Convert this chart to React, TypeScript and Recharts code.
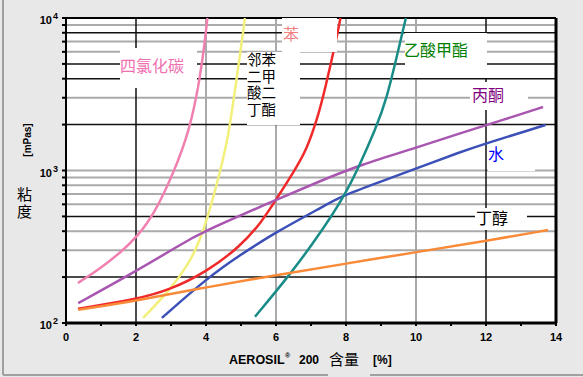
import React from 'react';
import { LineChart, Line, XAxis, YAxis, CartesianGrid, ReferenceLine } from 'recharts';

// ---- axis ticks ----
const xTicks = [0, 1, 2, 3, 4, 5, 6, 7, 8, 9, 10, 11, 12, 13, 14];
const yTicks = [100, 200, 300, 400, 500, 600, 700, 800, 900, 1000, 2000, 3000, 4000, 5000, 6000, 7000, 8000, 9000, 10000];

// ---- grid values ----
const yGridGray = [300, 400, 600, 700, 800, 900, 1000, 3000, 6000, 7000, 9000];
const yGridBlack = [200, 500, 2000, 4000, 5000, 8000];
const xGridGray = [4, 6, 8, 10];
const xGridBlack = [2, 12];

// ---- series (AEROSIL 200 content %, viscosity mPas) ----
const carbonTetrachloride = [
  { x: 0.34, y: 183 }, { x: 0.97, y: 227 }, { x: 1.54, y: 288 }, { x: 2.03, y: 366 },
  { x: 2.54, y: 529 }, { x: 3.06, y: 948 }, { x: 3.54, y: 1845 }, { x: 3.83, y: 4045 },
  { x: 3.97, y: 7110 }, { x: 4.04, y: 10000 },
];
const dibutylPhthalate = [
  { x: 2.2, y: 108 }, { x: 2.97, y: 164 }, { x: 3.54, y: 251 }, { x: 3.83, y: 350 },
  { x: 4.11, y: 551 }, { x: 4.4, y: 977 }, { x: 4.63, y: 1633 }, { x: 4.83, y: 3373 },
  { x: 5.07, y: 8340 }, { x: 5.11, y: 10000 },
];
const benzene = [
  { x: 0.34, y: 124 }, { x: 2.02, y: 143 }, { x: 2.97, y: 165 }, { x: 4.02, y: 217 },
  { x: 4.97, y: 316 }, { x: 5.6, y: 462 }, { x: 6.03, y: 660 }, { x: 6.54, y: 1007 },
  { x: 6.87, y: 1363 }, { x: 7.17, y: 2144 }, { x: 7.4, y: 3373 }, { x: 7.78, y: 8340 },
  { x: 7.84, y: 10000 },
];
const water = [
  { x: 2.74, y: 108 }, { x: 4.02, y: 196 }, { x: 4.97, y: 279 }, { x: 6.02, y: 397 },
  { x: 7.26, y: 565 }, { x: 7.83, y: 673 }, { x: 8.97, y: 841 }, { x: 10.02, y: 1034 },
  { x: 11.26, y: 1320 }, { x: 12.03, y: 1515 }, { x: 13.26, y: 1845 }, { x: 13.7, y: 1988 },
];
const acetone = [
  { x: 0.35, y: 135 }, { x: 2.02, y: 220 }, { x: 3.26, y: 325 }, { x: 3.83, y: 389 },
  { x: 6.11, y: 657 }, { x: 7.26, y: 853 }, { x: 8.4, y: 1087 }, { x: 10.02, y: 1412 },
  { x: 11.26, y: 1754 }, { x: 12.5, y: 2150 }, { x: 13.63, y: 2608 },
];
const methylAcetate = [
  { x: 5.4, y: 110 }, { x: 6.35, y: 201 }, { x: 7.15, y: 355 }, { x: 7.95, y: 673 },
  { x: 8.4, y: 1100 }, { x: 8.83, y: 1845 }, { x: 9.16, y: 2900 }, { x: 9.54, y: 6820 },
  { x: 9.71, y: 10000 },
];
const butanol = [
  { x: 0.35, y: 122 }, { x: 2.02, y: 140 }, { x: 4.02, y: 172 }, { x: 6.0, y: 206 },
  { x: 8.0, y: 245 }, { x: 10.02, y: 292 }, { x: 12.0, y: 345 }, { x: 13.77, y: 407 },
];

const LATIN = '"Liberation Sans", Arial, sans-serif';
const CJK = '"Noto Sans CJK SC", sans-serif';
const STACK = '"Liberation Sans", "Noto Sans CJK SC", sans-serif';

const YTick = (props: any) => {
  const { x, y, payload } = props;
  const v = payload.value;
  const exp = Math.round(Math.log10(v));
  if (Math.pow(10, exp) !== v) return <g />;
  return (
    <g>
      <text x={x - 8} y={y + 6} textAnchor="end" fontSize={11} fontWeight="bold" fontFamily={LATIN} fill="#000">10</text>
      <text x={x - 7} y={y + 1} fontSize={9} fontWeight="bold" fontFamily={LATIN} fill="#000">{exp}</text>
    </g>
  );
};

const series = [
  { data: carbonTetrachloride, color: '#f080b0' },
  { data: dibutylPhthalate, color: '#f2f07a' },
  { data: benzene, color: '#f02a2a' },
  { data: water, color: '#3c50b8' },
  { data: acetone, color: '#a856b0' },
  { data: methylAcetate, color: '#1a8c88' },
  { data: butanol, color: '#f88a38' },
];

const labels = [
  { box: [120, 48, 77, 40], text: '四氯化碳', tx: 120, ty: 72, color: '#f070b0' },
  { box: [282, 18, 55, 34], text: '苯', tx: 283, ty: 40, color: '#f08080' },
  { box: [405, 33, 82, 45], text: '乙酸甲酯', tx: 404, ty: 56, color: '#008000' },
  { box: [470, 82, 58, 28], text: '丙酮', tx: 472, ty: 101, color: '#800080' },
  { box: [488, 146, 47, 25], text: '水', tx: 488, ty: 160, color: '#0000ff' },
  { box: [475, 208, 52, 22], text: '丁醇', tx: 476, ty: 224, color: '#000' },
];
const dbpLines = ['邻苯', '二甲', '酸二', '丁酯'];
const yTitleLines = ['粘', '度'];

export default function App() {
  return (
    <div style={{ position: 'absolute', left: 0, top: 0, width: 583, height: 377, background: '#e8e8e8', overflow: 'hidden' }}>
      <svg width={583} height={377} style={{ position: 'absolute', left: 0, top: 0 }}>
        <rect x={66} y={18} width={490} height={305} fill="#fff" />
        <line x1={3} y1={0} x2={3} y2={375} stroke="#a0a0a0" strokeWidth={2} />
        <line x1={3} y1={375} x2={328} y2={375} stroke="#a0a0a0" strokeWidth={2} />
        <line x1={370} y1={375} x2={583} y2={375} stroke="#a0a0a0" strokeWidth={2} />
      </svg>
      <div style={{ position: 'absolute', left: 0, top: 0 }}>
        <LineChart width={583} height={377} margin={{ top: 18, right: 27, bottom: 24, left: 0 }}>
          <CartesianGrid stroke="#aaaaaa" strokeWidth={2} horizontalValues={yGridGray} verticalValues={xGridGray} />
          <CartesianGrid stroke="#111" strokeWidth={1.5} horizontalValues={yGridBlack} verticalValues={xGridBlack} />
          <XAxis
            dataKey="x"
            type="number"
            domain={[0, 14]}
            ticks={xTicks}
            interval={0}
            allowDataOverflow
            height={30}
            tickSize={3}
            tickMargin={7}
            tickFormatter={(v: number) => (v % 2 === 0 ? String(v) : '')}
            tick={{ fontSize: 11, fontWeight: 'bold', fill: '#000', fontFamily: LATIN }}
            axisLine={{ stroke: '#000', strokeWidth: 3 }}
            tickLine={{ stroke: '#000', strokeWidth: 2 }}
          />
          <YAxis
            type="number"
            scale="log"
            domain={[100, 10000]}
            ticks={yTicks}
            interval={0}
            allowDataOverflow
            width={66}
            tickSize={4}
            tick={<YTick />}
            axisLine={{ stroke: '#000', strokeWidth: 2 }}
            tickLine={{ stroke: '#000', strokeWidth: 2 }}
          />
          <ReferenceLine y={10000} stroke="#000" strokeWidth={2} />
          <ReferenceLine x={14} stroke="#000" strokeWidth={3} />
          {series.map((s, i) => (
            <Line
              key={i}
              data={s.data}
              dataKey="y"
              type="basis"
              stroke={s.color}
              strokeWidth={2.5}
              dot={false}
              isAnimationActive={false}
            />
          ))}
        </LineChart>
      </div>
      <svg width={583} height={377} style={{ position: 'absolute', left: 0, top: 0, pointerEvents: 'none' }}>
        {labels.map((l, i) => (
          <g key={i}>
            <rect x={l.box[0]} y={l.box[1]} width={l.box[2]} height={l.box[3]} fill="#fff" />
            <text x={l.tx} y={l.ty} fontSize={16} fontFamily={CJK} fill={l.color}>{l.text}</text>
          </g>
        ))}
        <rect x={247} y={52} width={53} height={73} fill="#fff" />
        <text transform="translate(31,140) rotate(-90)" textAnchor="middle" fontSize={10} fontWeight="bold" fontFamily={LATIN} fill="#000">[mPas]</text>
        <text x={229} y={364} fontSize={12.5} fontWeight="bold" fontFamily={LATIN} fill="#000">AEROSIL</text>
        <text x={285} y={358} fontSize={7} fontWeight="bold" fontFamily={LATIN} fill="#000">®</text>
        <text x={299} y={364} fontSize={12} fontWeight="bold" fontFamily={LATIN} fill="#000">200</text>
        <text x={329} y={365} fontSize={15} fontFamily={CJK} fill="#000">含量</text>
        <text x={373} y={364} fontSize={12} fontWeight="bold" fontFamily={LATIN} fill="#000">[%]</text>
      </svg>
      <div
        style={{
          position: 'absolute',
          left: 247,
          top: 52,
          width: 40,
          fontFamily: STACK,
          fontSize: 14.5,
          lineHeight: '16.5px',
          color: '#000',
          whiteSpace: 'nowrap',
          pointerEvents: 'none',
        }}
      >
        {dbpLines.map((t, j) => (
          <div key={j} style={{ height: 16.5 }}>{t}</div>
        ))}
      </div>
      <div
        style={{
          position: 'absolute',
          left: 17,
          top: 186,
          width: 18,
          fontFamily: STACK,
          fontSize: 15,
          lineHeight: '17px',
          color: '#000',
          whiteSpace: 'nowrap',
          pointerEvents: 'none',
        }}
      >
        {yTitleLines.map((t, j) => (
          <div key={j} style={{ height: 17 }}>{t}</div>
        ))}
      </div>
    </div>
  );
}
